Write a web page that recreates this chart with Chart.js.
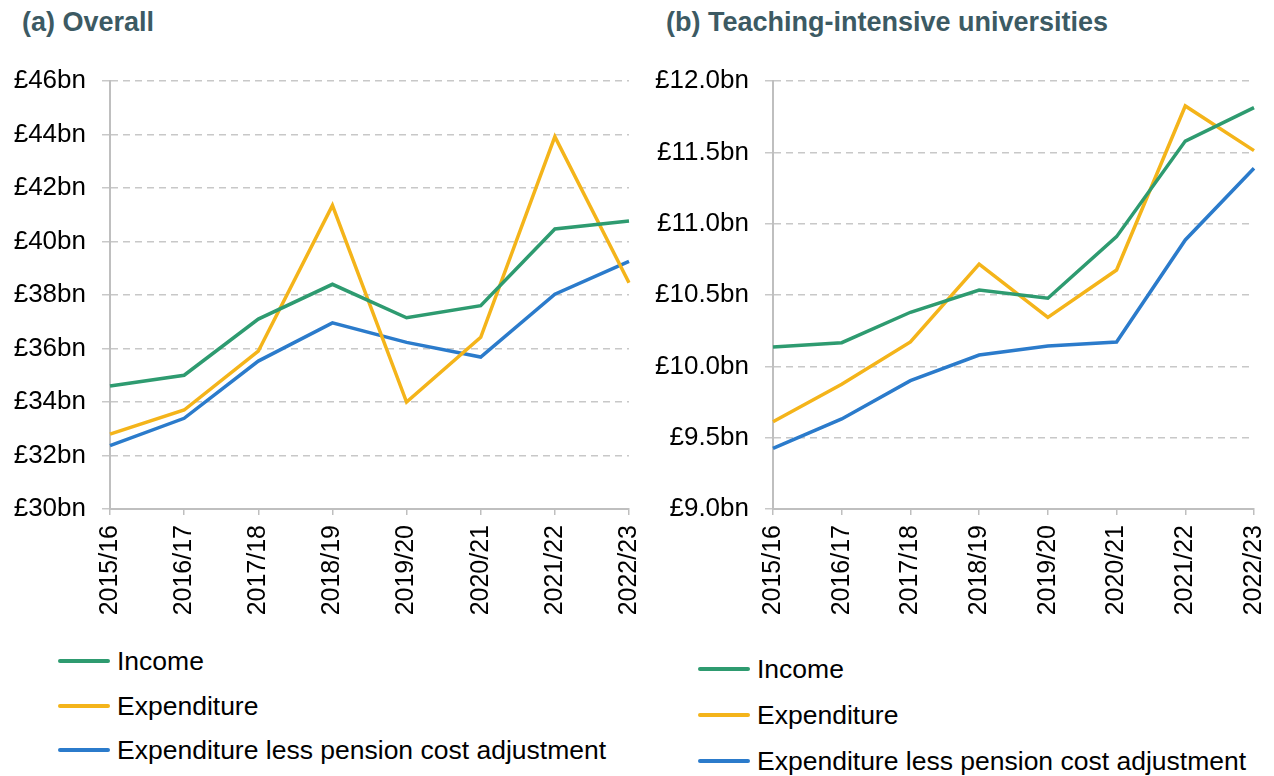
<!DOCTYPE html>
<html>
<head>
<meta charset="utf-8">
<script src="https://cdn.jsdelivr.net/npm/chart.js@4"></script>
<style>
  body { margin: 0; background: #fff; width: 1274px; height: 776px; position: relative; overflow: hidden; font-family: "Liberation Sans", Arial, sans-serif; }
  .panel { position: absolute; top: 0; }
  .title { position: absolute; top: 7px; font-weight: bold; font-size: 27px; color: #3C5A63; white-space: nowrap; }
  .legend { position: absolute; font-size: 26.5px; color: #000; }
  .legend div { position: absolute; white-space: nowrap; height: 30px; line-height: 30px; }
  .legend span.sw { position: absolute; left: 0; top: 13px; width: 52px; height: 4px; border-radius: 2px; }
  .legend span.tx { position: absolute; left: 59px; top: 0; }
</style>
</head>
<body>
<div class="title" style="left:22px">(a) Overall</div>
<div class="title" style="left:666px">(b) Teaching-intensive universities</div>
<div class="panel" style="left:0;width:669px;height:640px"><canvas id="chartA"></canvas></div>
<div class="panel" style="left:640px;width:654px;height:640px"><canvas id="chartB"></canvas></div>
<div class="legend" id="legendA" style="left:58px;top:646px"></div>
<div class="legend" id="legendB" style="left:698px;top:654px"></div>
<script>
// categories
const years = ['2015/16', '2016/17', '2017/18', '2018/19', '2019/20', '2020/21', '2021/22', '2022/23'];
const seriesNames = ['Income', 'Expenditure', 'Expenditure less pension cost adjustment'];
const seriesColors = ['#2E9B70', '#F4B41A', '#2B7BCB'];

// (a) Overall, £bn
const overallIncome = [34.6, 35.0, 37.1, 38.4, 37.15, 37.6, 40.47, 40.77];
const overallExpenditure = [32.8, 33.7, 35.9, 41.35, 34.0, 36.42, 43.92, 38.46];
const overallLessPension = [32.37, 33.39, 35.53, 36.96, 36.23, 35.68, 38.03, 39.26];

// (b) Teaching-intensive universities, £bn
const teachingIncome = [10.136, 10.166, 10.379, 10.535, 10.477, 10.909, 11.579, 11.813];
const teachingExpenditure = [9.612, 9.874, 10.171, 10.717, 10.343, 10.675, 11.825, 11.512];
const teachingLessPension = [9.425, 9.631, 9.9, 10.079, 10.143, 10.171, 10.886, 11.388];

const FONT = '"Liberation Sans", Arial, sans-serif';

function makeChart(canvasId, series, yMin, yMax, step, decimals, axisWidth, padRight) {
    const ctx = document.getElementById(canvasId).getContext('2d');
    return new Chart(ctx, {
        type: 'line',
        data: {
            labels: years,
            datasets: series.map((values, i) => ({
                label: seriesNames[i],
                data: values,
                borderColor: seriesColors[i],
                backgroundColor: seriesColors[i],
                borderWidth: 3.5,
                pointRadius: 0,
                tension: 0,
                fill: false
            }))
        },
        options: {
            responsive: true,
            maintainAspectRatio: false,
            animation: false,
            layout: { padding: { top: 81, right: padRight, left: 0, bottom: 0 } },
            plugins: {
                legend: { display: false },
                tooltip: { enabled: false }
            },
            scales: {
                x: {
                    offset: false,
                    grid: { drawOnChartArea: false, drawTicks: true, tickLength: 6, color: '#BFBFBF', lineWidth: 1.5 },
                    border: { display: true, color: '#BFBFBF', width: 2 },
                    ticks: {
                        minRotation: 90,
                        maxRotation: 90,
                        autoSkip: false,
                        padding: 10,
                        color: '#000',
                        font: { family: FONT, size: 25 }
                    },
                    afterFit: (scale) => { scale.height = 131; }
                },
                y: {
                    min: yMin,
                    max: yMax,
                    grid: { color: '#C8C8C8', lineWidth: 1.5, tickLength: 8 },
                    border: { display: true, color: '#BFBFBF', width: 2, dash: [7, 5] },
                    ticks: {
                        stepSize: step,
                        padding: 16,
                        color: '#000',
                        font: { family: FONT, size: 26 },
                        callback: (v) => '£' + Number(v).toFixed(decimals) + 'bn'
                    },
                    afterFit: (scale) => { scale.width = axisWidth; }
                }
            }
        }
    });
}

makeChart('chartA', [overallIncome, overallExpenditure, overallLessPension], 30, 46, 2, 0, 110, 12);
makeChart('chartB', [teachingIncome, teachingExpenditure, teachingLessPension], 9, 12, 0.5, 1, 133, 21);

function buildLegend(id, gap) {
    const box = document.getElementById(id);
    seriesNames.forEach((name, i) => {
        const row = document.createElement('div');
        row.style.top = (i * gap) + 'px';
        row.innerHTML = '<span class="sw" style="background:' + seriesColors[i] + '"></span><span class="tx"></span>';
        row.querySelector('.tx').textContent = name;
        box.appendChild(row);
    });
}
buildLegend('legendA', 44.5);
buildLegend('legendB', 46);
</script>
</body>
</html>
